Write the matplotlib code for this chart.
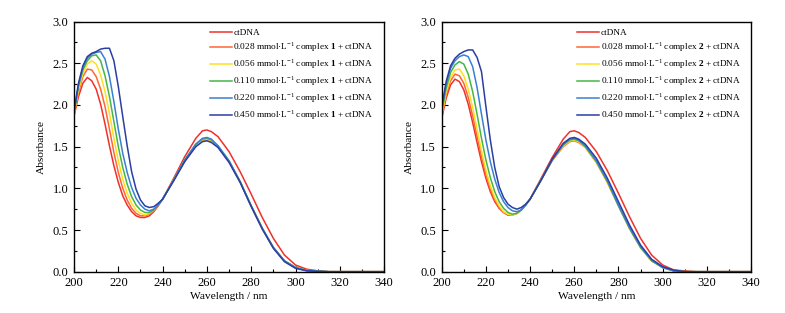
import numpy as np
import matplotlib
matplotlib.use("Agg")
import matplotlib.pyplot as plt
from matplotlib.ticker import MultipleLocator

plt.rcParams['font.family'] = ['Liberation Serif', 'DejaVu Serif']
plt.rcParams['mathtext.fontset'] = 'custom'
plt.rcParams['mathtext.rm'] = 'Liberation Serif'
plt.rcParams['mathtext.bf'] = 'Liberation Serif:bold'

# wavelength grid (nm)
wavelength = [200, 202, 204, 206, 208, 210, 212, 214, 216, 218, 220, 222, 224, 226, 228,
              230, 232, 234, 236, 238, 240, 245, 250, 255, 258, 260, 262, 265, 270, 275,
              280, 285, 290, 295, 300, 305, 310, 315, 320, 330, 340]

concentrations = ["0.028", "0.056", "0.110", "0.220", "0.450"]

# ---- complex 1 ----
c1_ctdna = [1.87, 2.10, 2.26, 2.33, 2.29, 2.19, 2.01, 1.77, 1.51, 1.27, 1.07, 0.91, 0.80, 0.72, 0.67,
            0.65, 0.65, 0.67, 0.72, 0.79, 0.87, 1.12, 1.38, 1.60, 1.69, 1.70, 1.68, 1.62, 1.44, 1.20,
            0.93, 0.65, 0.40, 0.20, 0.08, 0.03, 0.01, 0.0, 0.0, 0.0, 0.0]
c1_028 = [1.88, 2.15, 2.34, 2.43, 2.42, 2.34, 2.19, 1.98, 1.71, 1.43, 1.19, 1.00, 0.86, 0.76, 0.70,
          0.67, 0.67, 0.69, 0.73, 0.80, 0.87, 1.10, 1.33, 1.51, 1.57, 1.58, 1.56, 1.50, 1.32, 1.08,
          0.79, 0.52, 0.29, 0.13, 0.05, 0.015, 0.005, 0.0, 0.0, 0.0, 0.0]
c1_056 = [1.89, 2.18, 2.38, 2.49, 2.53, 2.49, 2.36, 2.16, 1.90, 1.60, 1.33, 1.11, 0.94, 0.82, 0.74,
          0.70, 0.68, 0.70, 0.74, 0.80, 0.87, 1.10, 1.34, 1.52, 1.58, 1.59, 1.57, 1.50, 1.32, 1.08,
          0.79, 0.52, 0.29, 0.13, 0.05, 0.015, 0.005, 0.0, 0.0, 0.0, 0.0]
c1_110 = [1.90, 2.22, 2.42, 2.53, 2.59, 2.60, 2.53, 2.35, 2.10, 1.80, 1.50, 1.25, 1.05, 0.90, 0.80,
          0.74, 0.71, 0.71, 0.74, 0.80, 0.87, 1.10, 1.34, 1.53, 1.59, 1.60, 1.58, 1.51, 1.33, 1.08,
          0.79, 0.52, 0.29, 0.13, 0.05, 0.015, 0.005, 0.0, 0.0, 0.0, 0.0]
c1_220 = [1.91, 2.24, 2.45, 2.56, 2.61, 2.63, 2.64, 2.55, 2.34, 2.04, 1.71, 1.42, 1.19, 1.01, 0.88,
          0.80, 0.75, 0.73, 0.75, 0.80, 0.87, 1.10, 1.34, 1.53, 1.60, 1.61, 1.59, 1.51, 1.33, 1.08,
          0.79, 0.52, 0.29, 0.13, 0.05, 0.015, 0.005, 0.0, 0.0, 0.0, 0.0]
c1_450 = [1.92, 2.26, 2.47, 2.58, 2.62, 2.64, 2.67, 2.68, 2.68, 2.53, 2.22, 1.86, 1.51, 1.20, 0.99,
          0.86, 0.79, 0.77, 0.78, 0.82, 0.87, 1.09, 1.32, 1.50, 1.56, 1.57, 1.55, 1.49, 1.31, 1.07,
          0.78, 0.51, 0.28, 0.12, 0.04, 0.01, 0.005, 0.0, 0.0, 0.0, 0.0]

# ---- complex 2 ----
c2_ctdna = [1.84, 2.08, 2.24, 2.31, 2.28, 2.18, 2.01, 1.79, 1.55, 1.32, 1.12, 0.96, 0.84, 0.76, 0.71,
            0.68, 0.68, 0.70, 0.74, 0.80, 0.87, 1.12, 1.37, 1.59, 1.68, 1.69, 1.67, 1.61, 1.44, 1.21,
            0.94, 0.66, 0.40, 0.20, 0.08, 0.02, 0.01, 0.0, 0.0, 0.0, 0.0]
c2_028 = [1.86, 2.12, 2.29, 2.37, 2.35, 2.26, 2.09, 1.87, 1.62, 1.38, 1.16, 0.99, 0.86, 0.77, 0.71,
          0.68, 0.68, 0.70, 0.74, 0.80, 0.87, 1.10, 1.33, 1.50, 1.56, 1.57, 1.55, 1.49, 1.31, 1.07,
          0.79, 0.52, 0.29, 0.13, 0.05, 0.01, 0.0, 0.0, 0.0, 0.0, 0.0]
c2_056 = [1.88, 2.15, 2.33, 2.42, 2.43, 2.35, 2.19, 1.97, 1.71, 1.45, 1.22, 1.03, 0.89, 0.79, 0.72,
          0.69, 0.68, 0.70, 0.74, 0.80, 0.87, 1.10, 1.34, 1.51, 1.57, 1.58, 1.56, 1.49, 1.31, 1.07,
          0.79, 0.52, 0.29, 0.13, 0.05, 0.01, 0.0, 0.0, 0.0, 0.0, 0.0]
c2_110 = [1.91, 2.20, 2.39, 2.48, 2.52, 2.49, 2.37, 2.16, 1.89, 1.60, 1.34, 1.13, 0.96, 0.84, 0.76,
          0.71, 0.69, 0.70, 0.74, 0.80, 0.87, 1.10, 1.34, 1.52, 1.58, 1.59, 1.57, 1.50, 1.32, 1.08,
          0.79, 0.52, 0.29, 0.13, 0.05, 0.01, 0.0, 0.0, 0.0, 0.0, 0.0]
c2_220 = [1.94, 2.25, 2.44, 2.53, 2.58, 2.60, 2.58, 2.46, 2.21, 1.89, 1.58, 1.32, 1.11, 0.95, 0.84,
          0.77, 0.73, 0.72, 0.74, 0.80, 0.87, 1.10, 1.34, 1.53, 1.59, 1.60, 1.58, 1.51, 1.33, 1.09,
          0.80, 0.53, 0.30, 0.14, 0.05, 0.01, 0.0, 0.0, 0.0, 0.0, 0.0]
c2_450 = [1.97, 2.28, 2.47, 2.56, 2.61, 2.64, 2.66, 2.66, 2.57, 2.40, 1.98, 1.58, 1.25, 1.02, 0.89,
          0.81, 0.77, 0.75, 0.77, 0.81, 0.87, 1.10, 1.35, 1.54, 1.60, 1.61, 1.59, 1.53, 1.36, 1.12,
          0.84, 0.56, 0.32, 0.15, 0.06, 0.02, 0.0, 0.0, 0.0, 0.0, 0.0]

colors = ['#f0302a', '#ff6633', '#ffe01f', '#46b545', '#3a80d0', '#2b3ea3']

panels = [
    ("1", [c1_ctdna, c1_028, c1_056, c1_110, c1_220, c1_450]),
    ("2", [c2_ctdna, c2_028, c2_056, c2_110, c2_220, c2_450]),
]

fig = plt.figure(figsize=(7.85, 3.13), dpi=100)
ax_pos = [[0.0943, 0.132, 0.395, 0.799], [0.5627, 0.132, 0.394, 0.799]]

for (num, curves), pos in zip(panels, ax_pos):
    ax = fig.add_axes(pos)
    labels = ["ctDNA"] + [f"{c} mmol·L$^{{-1}}$ complex $\\mathbf{{{num}}}$ + ctDNA" for c in concentrations]
    for vals, col, lab in zip(curves, colors, labels):
        ax.plot(wavelength, vals, color=col, lw=1.1, label=lab)

    ax.set_xlim(200, 340)
    ax.set_ylim(0, 3.0)
    ax.xaxis.set_major_locator(MultipleLocator(20))
    ax.xaxis.set_minor_locator(MultipleLocator(10))
    ax.yaxis.set_major_locator(MultipleLocator(0.5))
    ax.yaxis.set_minor_locator(MultipleLocator(0.25))
    ax.yaxis.set_major_formatter(plt.FormatStrFormatter('%.1f'))
    ax.tick_params(which='both', direction='in', top=False, right=False, labelsize=9, pad=4, width=0.8)
    ax.tick_params(which='major', length=4)
    ax.tick_params(which='minor', length=2.5)
    for sp in ax.spines.values():
        sp.set_linewidth(1.0)
    ax.set_xlabel("Wavelength / nm", fontsize=8.2, labelpad=2)
    ax.set_ylabel("Absorbance", fontsize=8.2, labelpad=5)
    ax.legend(loc='upper left', bbox_to_anchor=(0.415, 1.0), frameon=False, fontsize=6.7,
              handlelength=2.4, handletextpad=0.15, labelspacing=0.35, borderpad=0.25)

fig.savefig("out.png", dpi=100)
